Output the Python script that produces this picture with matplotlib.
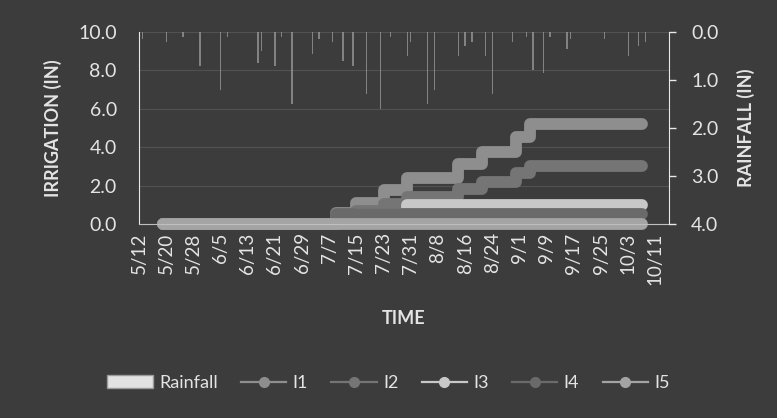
import numpy as np
import pandas as pd
import matplotlib
matplotlib.use('Agg')
import matplotlib.pyplot as plt
from matplotlib.lines import Line2D
from matplotlib.patches import Patch

# daily rainfall (in)
rain_dates = ['5/13', '5/20', '5/25', '5/30', '6/5', '6/7', '6/16', '6/17', '6/21', '6/23',
              '6/26', '7/2', '7/4', '7/8', '7/11', '7/14', '7/18', '7/22', '7/25', '7/30',
              '7/31', '8/5', '8/7', '8/14', '8/16', '8/18', '8/22', '8/24', '8/30', '9/3',
              '9/5', '9/8', '9/10', '9/15', '9/16', '9/26', '10/3', '10/6', '10/8']
rain_in = [0.15, 0.2, 0.1, 0.7, 1.2, 0.1, 0.65, 0.4, 0.7, 0.1,
           1.5, 0.45, 0.15, 0.2, 0.6, 0.7, 1.3, 1.6, 0.1, 0.5,
           0.2, 1.5, 1.2, 0.5, 0.3, 0.2, 0.5, 1.3, 0.2, 0.1,
           0.8, 0.85, 0.1, 0.35, 0.15, 0.15, 0.5, 0.3, 0.2]

# cumulative irrigation (in) at each irrigation event
start_date = '5/19'
end_date = '10/7'
event_dates = ['7/9', '7/15', '7/23', '7/30', '8/14', '8/21', '8/31', '9/4']
I1 = [0.55, 1.1, 1.75, 2.4, 3.1, 3.75, 4.55, 5.2]
I2 = [0.33, 0.66, 1.05, 1.4, 1.8, 2.2, 2.65, 3.0]
I3 = [0.25, 0.5, 0.5, 1.0, 1.0, 1.0, 1.0, 1.0]
I4 = [0.5, 0.5, 0.5, 0.5, 0.5, 0.5, 0.5, 0.5]
I5 = [0, 0, 0, 0, 0, 0, 0, 0]

series_names = ['I1', 'I2', 'I3', 'I4', 'I5']
series_vals = [I1, I2, I3, I4, I5]
series_colors = ['#8e8e8e', '#757575', '#c8c8c8', '#6a6a6a', '#a4a4a4']

YEAR = 2011


def to_date(s):
    return pd.Timestamp(f'{YEAR}/{s}')


bg = '#3c3c3c'
fg = '#e4e4e4'
plt.rcParams['font.family'] = ['Lato', 'DejaVu Sans']

fig = plt.figure(figsize=(7.77, 4.18), dpi=100, facecolor=bg)
ax = fig.add_axes([139 / 777, 1 - 224 / 418, 530 / 777, 192 / 418])
ax.set_facecolor(bg)
ax2 = ax.twinx()

# irrigation step lines
x = [to_date(start_date)] + [to_date(d) for d in event_dates] + [to_date(end_date)]
for name, vals, col in zip(series_names, series_vals, series_colors):
    y = [0] + list(vals) + [vals[-1]]
    ax.plot(x, y, drawstyle='steps-post', color=col, lw=8.5,
            solid_capstyle='round', solid_joinstyle='round', clip_on=False)

# rainfall bars hanging from the top
ax2.bar([to_date(d) for d in rain_dates], rain_in, width=0.4,
        color='#a8a8a8', alpha=0.65, linewidth=0)

ax.set_xlim(to_date('5/12'), to_date('10/15'))
ax.set_ylim(0, 10)
ax2.set_ylim(4, 0)

ax.set_yticks(np.arange(0, 10.1, 2))
ax.set_yticklabels([f'{v:.1f}' for v in np.arange(0, 10.1, 2)])
ax2.set_yticks(np.arange(0, 4.1, 1))
ax2.set_yticklabels([f'{v:.1f}' for v in np.arange(0, 4.1, 1)])

ticks = pd.date_range(to_date('5/12'), to_date('10/11'), freq='8D')
ax.set_xticks(ticks)
ax.set_xticklabels([f'{d.month}/{d.day}' for d in ticks], rotation=90)

ax.grid(axis='y', color='#525252', lw=0.8)
ax.set_axisbelow(True)

for a in (ax, ax2):
    for s in a.spines.values():
        s.set_visible(False)
ax.spines['left'].set_visible(True)
ax.spines['left'].set_color('#e8e8e8')
ax.spines['bottom'].set_visible(True)
ax.spines['bottom'].set_color('#bfbfbf')
ax2.spines['right'].set_visible(True)
ax2.spines['right'].set_color('#e8e8e8')

ax.tick_params(axis='y', length=0, pad=16, labelsize=14, labelcolor=fg)
ax.tick_params(axis='x', length=0, pad=6, labelsize=13.5, labelcolor=fg)
ax2.tick_params(axis='y', length=5, width=1, color='#e8e8e8', pad=11,
                labelsize=14, labelcolor=fg)

ax.set_ylabel('IRRIGATION (IN)', fontsize=13, fontweight='bold', color=fg)
ax.yaxis.set_label_coords(-0.145, 0.5)
ax2.set_ylabel('RAINFALL (IN)', fontsize=13, fontweight='bold', color=fg,
               rotation=90)
ax2.yaxis.set_label_coords(1.128, 0.5)
fig.text(404 / 777, 1 - 318 / 418, 'TIME', fontsize=13, fontweight='bold',
         color=fg, ha='center', va='center')

# legend
handles = [Patch(facecolor='#e2e2e2', edgecolor='#9a9a9a')]
for col in series_colors:
    handles.append(Line2D([], [], color=col, lw=1.6, marker='o', markersize=7,
                          markerfacecolor=col, markeredgecolor=col))
fig.legend(handles, ['Rainfall'] + series_names, loc='center',
           bbox_to_anchor=(0.5, 1 - 383 / 418), ncol=6, frameon=False,
           fontsize=13, labelcolor=fg, handlelength=2.5, handletextpad=0.35,
           columnspacing=1.3, handleheight=0.7)

fig.savefig('out.png', dpi=100, facecolor=bg)
